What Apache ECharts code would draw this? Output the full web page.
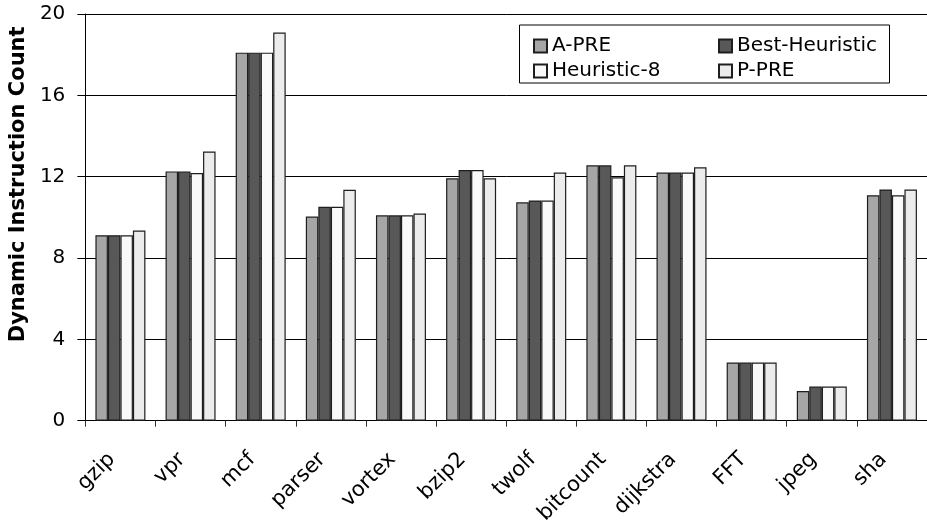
<!DOCTYPE html>
<html>
<head>
<meta charset="utf-8">
<script src="https://cdn.jsdelivr.net/npm/echarts@6/dist/echarts.min.js"></script>
<style>
html,body{margin:0;padding:0;background:#fff;}
#chart{width:927px;height:527px;}
</style>
</head>
<body>
<div id="chart"></div>
<script>
const categories = ['gzip','vpr','mcf','parser','vortex','bzip2','twolf','bitcount','dijkstra','FFT','jpeg','sha'];
const aPre          = [9.12, 12.26, 18.10, 10.04, 10.10, 11.92, 10.74, 12.56, 12.20, 2.86, 1.46, 11.09];
const bestHeuristic = [9.12, 12.26, 18.10, 10.52, 10.10, 12.33, 10.83, 12.56, 12.20, 2.86, 1.68, 11.37];
const heuristic8    = [9.12, 12.18, 18.10, 10.52, 10.10, 12.33, 10.83, 11.97, 12.20, 2.86, 1.68, 11.09];
const pPre          = [9.35, 13.24, 19.09, 11.36, 10.19, 11.92, 12.20, 12.56, 12.46, 2.86, 1.68, 11.37];
const yTicks = [0, 4, 8, 12, 16, 20];

const FONT = 'DejaVu Sans';
const chart = echarts.init(document.getElementById('chart'), null, {renderer:'canvas'});

function bar(name, data, color){
  return {
    name, type:'bar', data,
    barGap:'0%', barCategoryGap:'28.7%',
    itemStyle:{color, borderColor:'#1e1e1e', borderWidth:1.2},
    emphasis:{disabled:true}
  };
}

const legendText = {fontFamily:FONT, fontSize:20, color:'#000', lineHeight:20};

chart.setOption({
  animation:false,
  backgroundColor:'#ffffff',
  grid:{left:82, top:14, bottom:105.5, right:-10, containLabel:false},
  legend:[
    {data:['A-PRE','Heuristic-8'], orient:'vertical', left:528, top:31, icon:'rect', itemWidth:13, itemHeight:13, itemGap:5,
     textStyle:legendText, selectedMode:false},
    {data:['Best-Heuristic','P-PRE'], orient:'vertical', left:713, top:31, icon:'rect', itemWidth:13, itemHeight:13, itemGap:5,
     textStyle:legendText, selectedMode:false}
  ],
  graphic:[{type:'rect', left:517, top:22.5, shape:{width:370, height:58}, style:{fill:'none', stroke:'#000', lineWidth:1}, z:10}],
  xAxis:{
    type:'category', data:categories,
    axisLine:{lineStyle:{color:'#000', width:1}},
    axisTick:{show:true, length:6, alignWithLabel:false, lineStyle:{color:'#333'}},
    axisLabel:{rotate:45, fontFamily:FONT, fontSize:21, color:'#000', margin:27, interval:0, padding:[0,12,0,0]}
  },
  yAxis:{
    type:'value', min:yTicks[0], max:yTicks[yTicks.length-1], interval:4,
    name:'Dynamic Instruction Count', nameLocation:'middle', nameRotate:90, nameGap:55,
    nameTextStyle:{fontFamily:FONT, fontSize:21, fontWeight:'bold', color:'#000', padding:[0,0,0,66]},
    axisLine:{show:true, lineStyle:{color:'#000', width:1}},
    axisTick:{show:true, length:8, inside:false, lineStyle:{color:'#000'}},
    axisLabel:{fontFamily:FONT, fontSize:20, color:'#000', margin:20},
    splitLine:{show:true, lineStyle:{color:'#000', width:1}}
  },
  series:[
    bar('A-PRE', aPre, '#a6a6a6'),
    bar('Best-Heuristic', bestHeuristic, '#585858'),
    bar('Heuristic-8', heuristic8, '#f9f9f9'),
    bar('P-PRE', pPre, '#ececec')
  ]
});
</script>
</body>
</html>
